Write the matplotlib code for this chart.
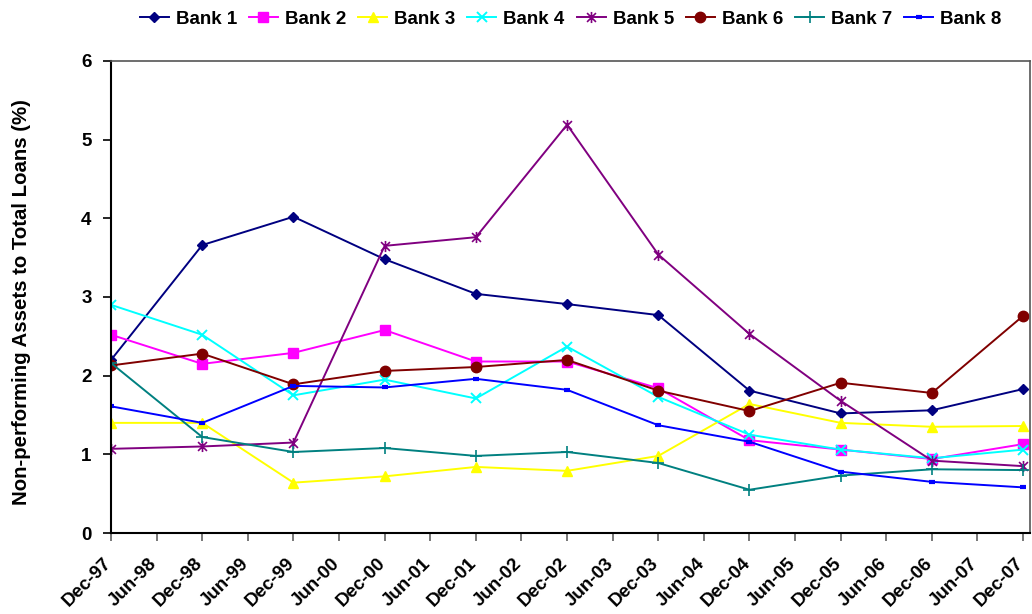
import matplotlib
matplotlib.use("Agg")
import matplotlib.pyplot as plt
import matplotlib.transforms as mtransforms
from matplotlib.path import Path

plt.rcParams['font.family'] = ['Liberation Sans', 'DejaVu Sans']
plt.rcParams['font.weight'] = 'bold'

# Half-yearly category axis; observations fall on each December
categories = ["Dec-97", "Jun-98", "Dec-98", "Jun-99", "Dec-99", "Jun-00", "Dec-00",
              "Jun-01", "Dec-01", "Jun-02", "Dec-02", "Jun-03", "Dec-03", "Jun-04",
              "Dec-04", "Jun-05", "Dec-05", "Jun-06", "Dec-06", "Jun-07", "Dec-07"]
obs_labels = categories[::2]

bank1 = [2.20, 3.66, 4.02, 3.48, 3.04, 2.91, 2.77, 1.81, 1.52, 1.56, 1.83]
bank2 = [2.52, 2.15, 2.29, 2.58, 2.18, 2.18, 1.84, 1.18, 1.06, 0.94, 1.13]
bank3 = [1.40, 1.40, 0.64, 0.72, 0.84, 0.79, 0.98, 1.64, 1.40, 1.35, 1.36]
bank4 = [2.90, 2.52, 1.75, 1.95, 1.71, 2.37, 1.73, 1.25, 1.06, 0.95, 1.06]
bank5 = [1.07, 1.10, 1.15, 3.65, 3.76, 5.19, 3.54, 2.53, 1.68, 0.92, 0.85]
bank6 = [2.13, 2.28, 1.89, 2.06, 2.11, 2.20, 1.81, 1.55, 1.91, 1.78, 2.76]
bank7 = [2.16, 1.22, 1.03, 1.08, 0.98, 1.03, 0.89, 0.55, 0.73, 0.81, 0.80]
bank8 = [1.61, 1.40, 1.87, 1.85, 1.96, 1.82, 1.37, 1.16, 0.78, 0.65, 0.58]

series_names = ["Bank 1", "Bank 2", "Bank 3", "Bank 4", "Bank 5", "Bank 6", "Bank 7", "Bank 8"]
series_values = [bank1, bank2, bank3, bank4, bank5, bank6, bank7, bank8]

# x-shaped star with a vertical bar
star = Path([(-1, -1), (1, 1), (-1, 1), (1, -1), (0, -1.25), (0, 1.25)],
            [Path.MOVETO, Path.LINETO, Path.MOVETO, Path.LINETO, Path.MOVETO, Path.LINETO])

styles = [
    dict(color="#000080", marker="D", ms=5.5),
    dict(color="#FF00FF", marker="s", ms=6.5),
    dict(color="#FFFF00", marker="^", ms=7.5),
    dict(color="#00FFFF", marker="x", ms=7, mew=1.4),
    dict(color="#800080", marker=star, ms=8, mew=1.2),
    dict(color="#800000", marker="o", ms=7.5),
    dict(color="#008080", marker="+", ms=8, mew=1.2),
    dict(color="#0000FF", marker="_", ms=5, mew=3),
]

fig = plt.figure(figsize=(10.32, 6.14), dpi=100)
ax = fig.add_axes([0.1076, 0.1319, 0.8904, 0.7688])

xpos = [categories.index(lbl) for lbl in obs_labels]
handles = []
for name, vals, st in zip(series_names, series_values, styles):
    h, = ax.plot(xpos, vals, color=st["color"], lw=1.4, marker=st["marker"],
                 markersize=st["ms"], markeredgewidth=st.get("mew", 1.0),
                 markerfacecolor=st["color"], markeredgecolor=st["color"], label=name)
    handles.append(h)

ax.set_xlim(0, 20.15)
ax.set_ylim(0, 6)
ax.set_yticks(range(0, 7))
ax.set_xticks(range(len(categories)))
ax.set_xticklabels(categories, rotation=45, ha="right", rotation_mode="anchor",
                   fontsize=13.5, fontweight="bold")

ax.tick_params(axis="y", labelsize=13.5, direction="out", length=6, width=1.2, pad=8)
ax.tick_params(axis="x", direction="out", length=6, width=1.2, color="#606060", pad=4)
for lbl in ax.get_yticklabels():
    lbl.set_fontweight("bold")

# nudge the slanted date labels down and to the left of their ticks
shift = mtransforms.ScaledTranslation(-8 / 100, -8 / 100, fig.dpi_scale_trans)
for lbl in ax.get_xticklabels():
    lbl.set_transform(lbl.get_transform() + shift)

ax.spines["left"].set_color("black")
ax.spines["left"].set_linewidth(1.5)
ax.spines["bottom"].set_color("black")
ax.spines["bottom"].set_linewidth(1.5)
ax.spines["top"].set_color("#555555")
ax.spines["top"].set_linewidth(1.2)
ax.spines["right"].set_color("#555555")
ax.spines["right"].set_linewidth(1.2)

ax.set_ylabel("Non-performing Assets to Total Loans (%)", fontsize=14.7,
              fontweight="bold")
ax.yaxis.set_label_coords(-0.087, 0.49)

fig.legend(handles=handles, loc="upper center", bbox_to_anchor=(0.553, 1.01),
           ncol=8, frameon=False, handlelength=1.55,
           handletextpad=0.37, columnspacing=0.64,
           prop={"weight": "bold", "size": 13.5})

fig.savefig("out.png", dpi=100)
